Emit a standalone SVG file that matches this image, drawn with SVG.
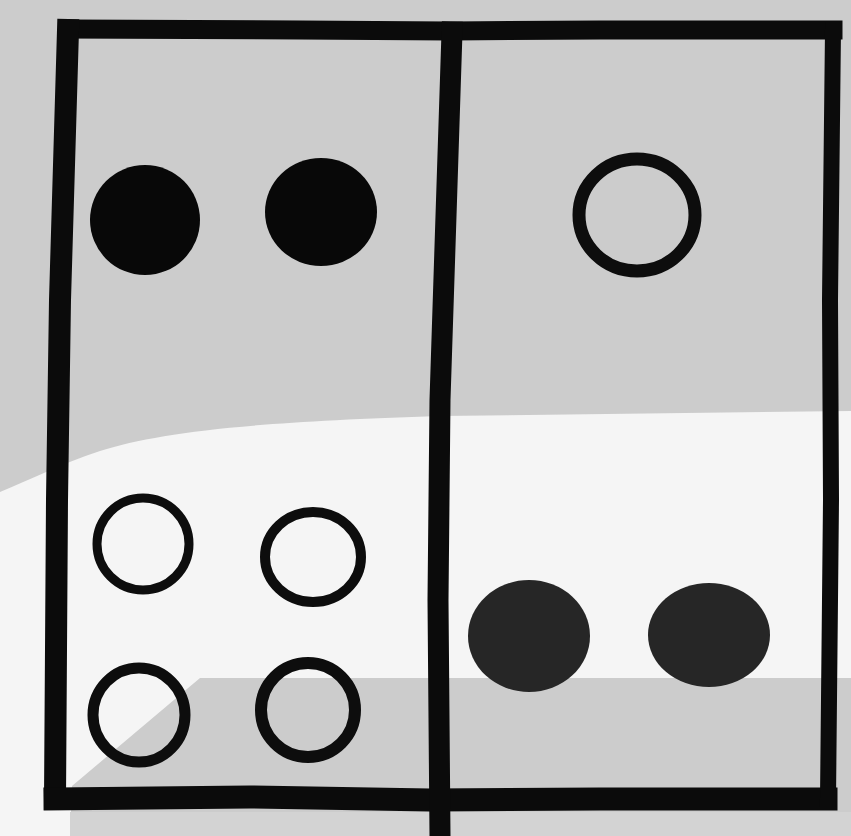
<svg xmlns="http://www.w3.org/2000/svg" width="851" height="836" viewBox="0 0 851 836">
<style>
.ink{fill:none;stroke:#0b0b0b;stroke-linejoin:round;stroke-linecap:square}
.dot{fill:#080808}
.dot2{fill:#262626}
.ring{fill:none;stroke:#0d0d0d}
</style>
<g id="background">
<rect x="0" y="0" width="851" height="836" fill="#cccccc"/>
<path d="M0,492 C30,480 60,464 100,451 C160,432 250,422 440,416 L851,411 L851,678 L200,678 L72,786 L70,836 L0,836 Z" fill="#f5f5f5"/>
<rect x="70" y="812" width="781" height="24" fill="#d3d3d3"/>
</g>
<g id="frame">
<path class="ink" stroke-width="19" d="M69,29 L300,30 L450,31 L600,30 L833,30"/>
<path class="ink" stroke-width="22" d="M68,30 L60,300 L57,500 L55,799"/>
<path class="ink" stroke-width="23" d="M55,799 L250,797 L430,800 L600,799 L826,799"/>
<path class="ink" stroke-width="16" d="M833,30 L830,300 L831,500 L828,799"/>
<path class="ink" stroke-width="21" d="M452,32 L440,400 L438,600 L440,836"/>
</g>
<g id="left-cell">
<g id="dot-l1"><ellipse class="dot" cx="145" cy="220" rx="55" ry="55"/></g>
<g id="dot-l2"><ellipse class="dot" cx="321" cy="212" rx="56" ry="54"/></g>
<g id="dot-l3"><ellipse class="ring" stroke-width="9" cx="143" cy="544" rx="46" ry="46"/></g>
<g id="dot-l4"><ellipse class="ring" stroke-width="10" cx="313" cy="557" rx="48" ry="45"/></g>
<g id="dot-l5"><ellipse class="ring" stroke-width="11" cx="139" cy="715" rx="46" ry="47"/></g>
<g id="dot-l6"><ellipse class="ring" stroke-width="12" cx="308" cy="710" rx="47" ry="47"/></g>
</g>
<g id="right-cell">
<g id="dot-r1"><ellipse class="ring" stroke-width="13" cx="637" cy="215" rx="58" ry="56"/></g>
<g id="dot-r2"><ellipse class="dot2" cx="529" cy="636" rx="61" ry="56"/></g>
<g id="dot-r3"><ellipse class="dot2" cx="709" cy="635" rx="61" ry="52"/></g>
</g>
</svg>
